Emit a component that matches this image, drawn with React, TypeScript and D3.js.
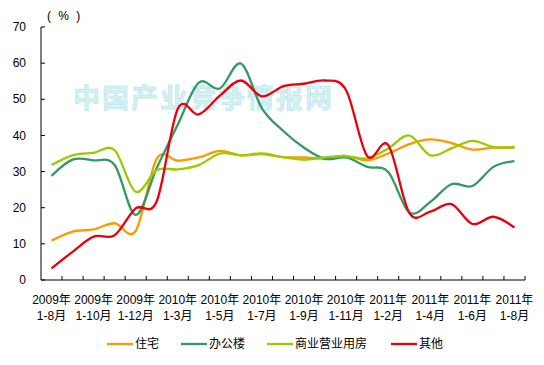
import React, { useRef, useEffect } from 'react';
import * as d3 from 'd3';

// monthly cumulative periods
const periods = [
  '2009年1-8月', '2009年1-9月', '2009年1-10月', '2009年1-11月', '2009年1-12月',
  '2010年1-2月', '2010年1-3月', '2010年1-4月', '2010年1-5月', '2010年1-6月', '2010年1-7月',
  '2010年1-8月', '2010年1-9月', '2010年1-10月', '2010年1-11月', '2010年1-12月',
  '2011年1-2月', '2011年1-3月', '2011年1-4月', '2011年1-5月', '2011年1-6月', '2011年1-7月', '2011年1-8月',
];

const residential = [10.9, 13.4, 14.0, 15.7, 13.6, 33.5, 33.0, 33.9, 35.7, 34.5, 34.8, 34.0, 33.9, 33.6, 34.3, 33.1, 35.0, 37.6, 38.9, 37.9, 36.1, 36.6, 36.6];
const office = [28.8, 33.3, 33.1, 31.8, 18.0, 31.0, 43.0, 54.6, 53.0, 59.9, 47.5, 41.3, 36.6, 33.5, 33.9, 31.3, 29.9, 18.7, 21.6, 26.5, 26.0, 31.3, 32.9];
const commercial = [31.8, 34.5, 35.2, 35.9, 24.4, 30.4, 30.6, 31.8, 35.0, 34.5, 35.0, 34.0, 33.3, 33.9, 34.3, 33.6, 36.4, 40.0, 34.5, 36.4, 38.5, 36.8, 36.8];
const other = [3.2, 7.8, 12.0, 12.4, 19.8, 21.8, 47.4, 45.8, 51.0, 55.2, 50.8, 53.6, 54.3, 55.2, 52.5, 34.3, 37.3, 18.6, 18.9, 21.0, 15.5, 17.5, 14.5];

const seriesNames = ['住宅', '办公楼', '商业营业用房', '其他'];
const seriesColors = ['#FF9900', '#339966', '#99CC00', '#E8000B'];
const yTicks = [0, 10, 20, 30, 40, 50, 60, 70];

const FONT = "'Liberation Sans', Arial, 'Noto Sans CJK SC', sans-serif";

const App = () => {
  const ref = useRef<SVGSVGElement>(null);

  useEffect(() => {
    const svg = d3.select(ref.current);
    svg.selectAll('*').remove();

    const left = 41;
    const right = 525;
    const top = 27;
    const bottom = 280;

    const x = d3.scaleBand<number>()
      .domain(periods.map((_, i) => i))
      .range([left, right]);
    const cx = (i: number) => (x(i) as number) + x.bandwidth() / 2;

    const y = d3.scaleLinear().domain([0, 70]).range([bottom, top]);

    // watermark
    svg.append('text')
      .attr('x', 73)
      .attr('y', 108)
      .attr('font-family', "'Noto Sans CJK SC', sans-serif")
      .attr('font-weight', 'bold')
      .attr('font-size', 27)
      .attr('letter-spacing', 2)
      .attr('fill', '#d3f0f3')
      .attr('stroke', '#bde6ec')
      .attr('stroke-width', 0.6)
      .text('中国产业竞争情报网');

    // y axis
    const yAxis = svg.append('g');
    yAxis.append('line')
      .attr('x1', left).attr('x2', left)
      .attr('y1', top).attr('y2', bottom)
      .attr('stroke', '#000');
    yAxis.selectAll('.yt')
      .data(yTicks)
      .enter().append('line')
      .attr('x1', left).attr('x2', left + 4)
      .attr('y1', d => y(d)).attr('y2', d => y(d))
      .attr('stroke', '#000');
    yAxis.selectAll('.yl')
      .data(yTicks)
      .enter().append('text')
      .attr('x', 26)
      .attr('y', d => y(d))
      .attr('dy', '0.35em')
      .attr('text-anchor', 'end')
      .attr('font-family', FONT)
      .attr('font-size', 12)
      .text(d => d);

    svg.append('text')
      .attr('x', 47)
      .attr('y', 20)
      .attr('font-family', FONT)
      .attr('font-size', 12)
      .attr('letter-spacing', 2)
      .text('( % )');

    // x axis
    const xAxis = svg.append('g');
    xAxis.append('line')
      .attr('x1', left).attr('x2', right)
      .attr('y1', bottom).attr('y2', bottom)
      .attr('stroke', '#000');
    xAxis.selectAll('.xt')
      .data(periods.map((_, i) => i + 1))
      .enter().append('line')
      .attr('x1', d => left + d * x.bandwidth())
      .attr('x2', d => left + d * x.bandwidth())
      .attr('y1', bottom).attr('y2', bottom - 4)
      .attr('stroke', '#000');

    const shown = periods.map((p, i) => ({ p, i })).filter(d => d.i % 2 === 0);
    const labels = xAxis.selectAll('.xl')
      .data(shown)
      .enter().append('text')
      .attr('text-anchor', 'middle')
      .attr('font-family', FONT)
      .attr('font-size', 12);
    labels.append('tspan')
      .attr('x', d => cx(d.i))
      .attr('y', 304)
      .text(d => d.p.slice(0, 5));
    labels.append('tspan')
      .attr('x', d => cx(d.i))
      .attr('y', 320)
      .text(d => d.p.slice(5));

    // lines
    const line = d3.line<number>()
      .x((_, i) => cx(i))
      .y(d => y(d))
      .curve(d3.curveCardinal.tension(0));

    [residential, office, commercial, other].forEach((s, k) => {
      svg.append('path')
        .datum(s)
        .attr('fill', 'none')
        .attr('stroke', seriesColors[k])
        .attr('stroke-width', 2.3)
        .attr('d', line);
    });

    // legend
    const legendX = [107, 181, 267, 391];
    const legend = svg.selectAll('.lg')
      .data(seriesNames)
      .enter().append('g')
      .attr('transform', (_, i) => `translate(${legendX[i]},344)`);
    legend.append('line')
      .attr('x1', 0).attr('x2', 26)
      .attr('stroke', (_, i) => seriesColors[i])
      .attr('stroke-width', 2.3);
    legend.append('text')
      .attr('x', 28)
      .attr('dy', '0.35em')
      .attr('font-family', FONT)
      .attr('font-size', 12)
      .text(d => d);
  }, []);

  return (
    <div style={{ position: 'absolute', left: 0, top: 0, width: 544, height: 365, background: '#fff' }}>
      <svg ref={ref} width={544} height={365} style={{ display: 'block' }} />
    </div>
  );
};

export default App;
